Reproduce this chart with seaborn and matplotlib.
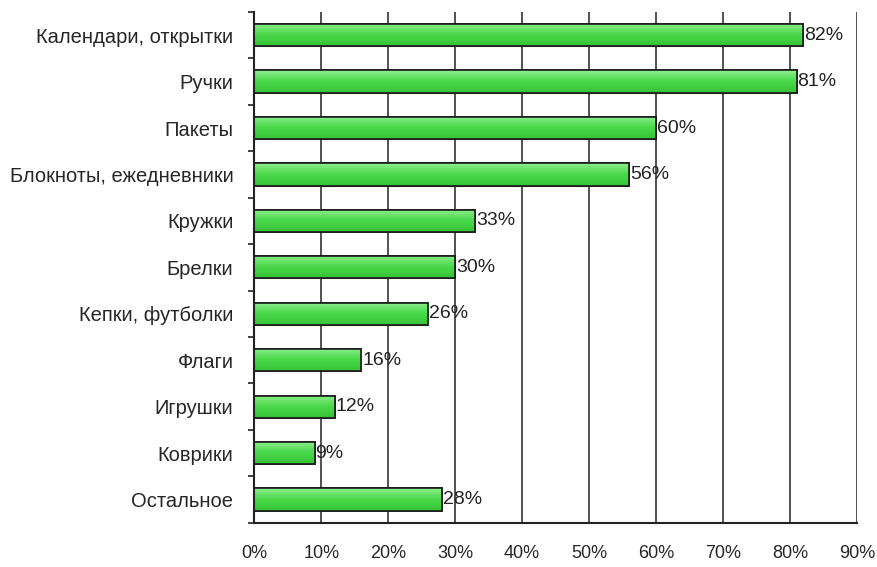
import matplotlib
matplotlib.use("Agg")
import matplotlib.pyplot as plt
import seaborn as sns
import numpy as np
import pandas as pd
from matplotlib.ticker import FixedLocator, PercentFormatter
from matplotlib.colors import LinearSegmentedColormap

categories = ["Календари, открытки", "Ручки", "Пакеты", "Блокноты, ежедневники",
              "Кружки", "Брелки", "Кепки, футболки", "Флаги", "Игрушки",
              "Коврики", "Остальное"]
values = [82, 81, 60, 56, 33, 30, 26, 16, 12, 9, 28]
xticks = [0, 10, 20, 30, 40, 50, 60, 70, 80, 90]

sns.set_theme(style="white")
plt.rcParams['font.family'] = ['Liberation Sans', 'DejaVu Sans']

df = pd.DataFrame({"cat": categories, "val": values})

fig = plt.figure(figsize=(8.77, 5.67), dpi=100)
ax = fig.add_axes([0.29, 0.078, 0.687, 0.901])
ax.set_axisbelow(True)
for x in xticks[1:]:
    ax.axvline(x, color="#333333", lw=1.2, zorder=0)

sns.barplot(data=df, y="cat", x="val", orient="h", color="#46d646",
            saturation=1, width=0.48, edgecolor="#1a1a1a", linewidth=1.2, ax=ax)

cmap = LinearSegmentedColormap.from_list(
    "g", ["#8ff08f", "#6ae36a", "#4ad84a", "#3fcf3f", "#36c036"])
grad = np.linspace(0, 1, 64).reshape(-1, 1)
for p in ax.patches:
    x0, y0 = p.get_x(), p.get_y()
    w, h = p.get_width(), p.get_height()
    im = ax.imshow(grad, cmap=cmap, aspect="auto",
                   extent=[x0, x0 + w, y0 + h, y0], origin="upper", zorder=p.get_zorder() + 0.1)
    im.set_clip_path(p)
    p.set_zorder(p.get_zorder())
    border = plt.Rectangle((x0, y0), w, h, fill=False, edgecolor="#1a1a1a",
                           linewidth=1.2, zorder=p.get_zorder() + 0.2)
    ax.add_patch(border)

for i, v in enumerate(values):
    ax.text(v + 0.15, i, f"{v}%", va="center", ha="left", fontsize=14, color="#222222")

ax.set_xlim(0, 90)
ax.set_ylim(len(categories) - 0.5, -0.5)
ax.set_aspect("auto")
ax.set_xticks(xticks)
ax.xaxis.set_major_formatter(PercentFormatter(decimals=0))
ax.set_xlabel("")
ax.set_ylabel("")
ax.tick_params(axis="x", direction="out", length=6, width=1.2, color="#222222", labelsize=13, pad=10)
ax.tick_params(axis="y", which="major", length=0, labelsize=14.5, pad=15)
ax.yaxis.set_minor_locator(FixedLocator(np.arange(-0.5, len(categories), 1.0)))
ax.tick_params(axis="y", which="minor", direction="out", length=4, width=1.2, color="#222222", left=True)
for s in ["top", "right"]:
    ax.spines[s].set_visible(False)
for s in ["left", "bottom"]:
    ax.spines[s].set_color("#222222")
    ax.spines[s].set_linewidth(1.5)

fig.savefig("out.png", dpi=100)
